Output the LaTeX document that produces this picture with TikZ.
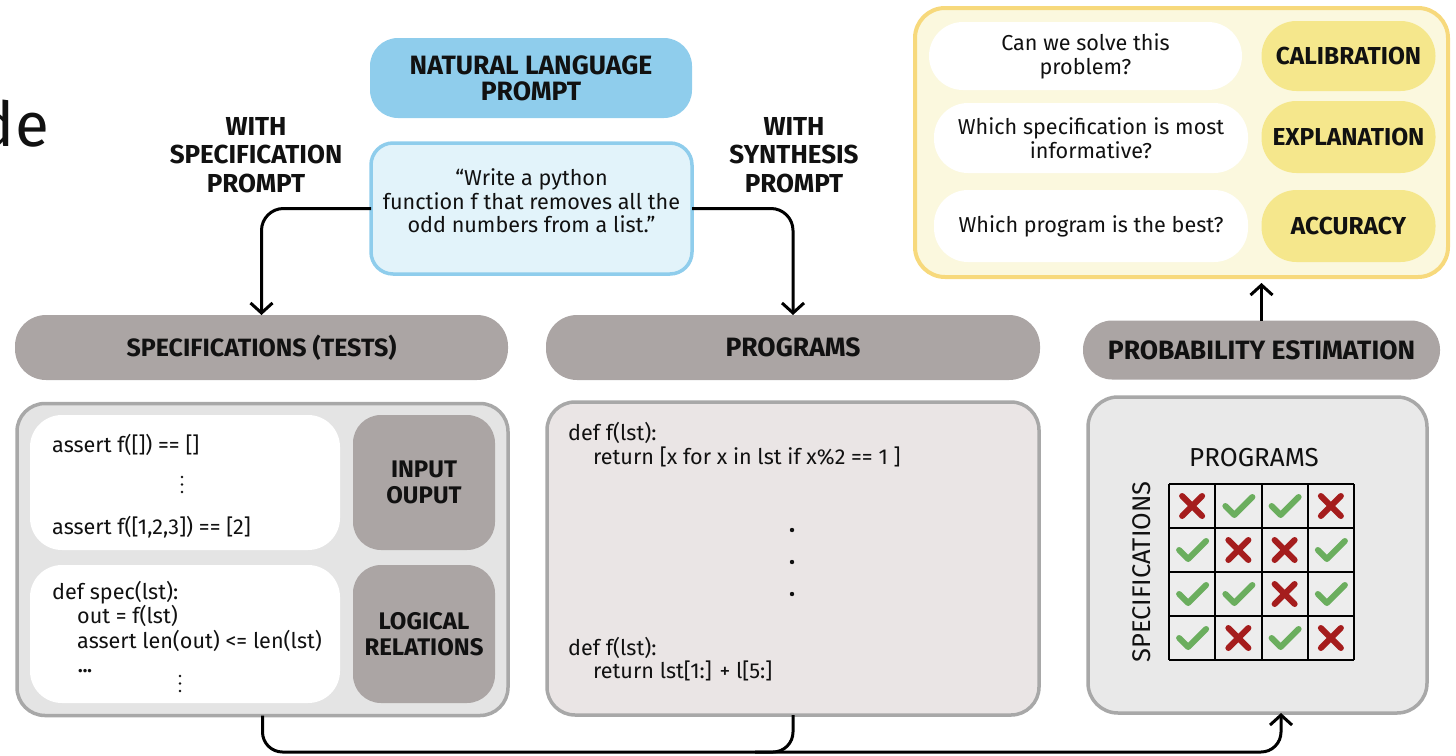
\documentclass[tikz,border=0pt]{standalone}
\usepackage{fontspec}
\setmainfont{Fira Sans}
\usetikzlibrary{arrows.meta,calc}

\definecolor{nlblue}{HTML}{8FCDEC}
\definecolor{promptfill}{HTML}{E2F3FA}
\definecolor{headgray}{HTML}{ABA5A4}
\definecolor{boxgray}{HTML}{E4E4E4}
\definecolor{boxedge}{HTML}{A8A8A8}
\definecolor{progfill}{HTML}{EAE5E5}
\definecolor{probfill}{HTML}{E9E9E9}
\definecolor{cellfill}{HTML}{EDEDED}
\definecolor{yelfill}{HTML}{FBF8DE}
\definecolor{yeledge}{HTML}{F7D97C}
\definecolor{yelpill}{HTML}{F5E78C}
\definecolor{okgreen}{HTML}{6BAE5E}
\definecolor{badred}{HTML}{A51D1D}
\definecolor{ink}{HTML}{111111}

% bold label font at a given size
\newcommand{\boldat}[1]{\fontsize{#1}{26}\selectfont\bfseries}
\newcommand{\bodyfont}{\fontsize{21.6}{24}\selectfont}

\tikzset{
  panel/.style={inner sep=0pt, outer sep=0pt},
  pillhead/.style={panel, fill=headgray, rounded corners=31pt, text=ink, align=center},
  bluehead/.style={panel, fill=nlblue, rounded corners=28pt, text=ink,
    font=\fontsize{26.5}{26}\selectfont\bfseries, align=center},
  promptbox/.style={panel, fill=promptfill, draw=nlblue, line width=3.5pt,
    rounded corners=22pt},
  prompttxt/.style={inner sep=0pt, text=ink, font=\fontsize{21.6}{23.5}\selectfont, align=center},
  outerbox/.style={panel, draw=boxedge, line width=3.5pt, rounded corners=28pt},
  whitebox/.style={panel, fill=white, rounded corners=32pt},
  graybox/.style={panel, fill=headgray, rounded corners=28pt, text=ink,
    font=\fontsize{24}{26}\selectfont\bfseries, align=center},
  qpill/.style={panel, fill=white, rounded corners=34pt, text=ink,
    font=\bodyfont, align=center},
  ypill/.style={panel, fill=yelpill, rounded corners=35pt, text=ink,
    font=\fontsize{24.5}{26}\selectfont\bfseries, align=center},
  code/.style={inner sep=0pt, anchor=base west, text=ink, font=\bodyfont},
  sidelabel/.style={inner sep=0pt, text=ink, font=\fontsize{26}{28.5}\selectfont\bfseries, align=center},
  gridlabel/.style={inner sep=0pt, text=ink},
  conn/.style={draw=black, line width=3pt, rounded corners=22pt,
    -{Straight Barb[length=10pt,width=22pt,line width=3pt]}},
  plainconn/.style={draw=black, line width=3pt, rounded corners=22pt},
  okmk/.pic={\draw[okgreen, line width=6pt, line cap=round, line join=round]
    (-13,0) -- (-4,9) -- (14,-9);},
  badmk/.pic={\draw[badred, line width=6pt, line cap=round]
    (-10,-10) -- (10,10) (-10,10) -- (10,-10);},
}

\begin{document}
\begin{tikzpicture}[x=1pt,y=-1pt]
\useasboundingbox (0,0) rectangle (1456,755);

% slide text cut by the left edge
\node[inner sep=0pt, anchor=base east, text=ink, font=\fontsize{62}{70}\selectfont] (slidetext) at (49,146) {de};

% prompt column
\node[bluehead, minimum width=322pt, minimum height=80pt] (nlhead) at (531,78)
  {NATURAL LANGUAGE\\PROMPT};
\node[promptbox, minimum width=321pt, minimum height=131pt] (prompt) at (531.5,208.5) {};
\node[prompttxt] (prompttext) at (531.5,201)
  {``Write a python\\function f that removes all the\\odd numbers from a list.''};

\node[sidelabel] (withspec) at (256,155) {WITH\\SPECIFICATION\\PROMPT};
\node[sidelabel] (withsyn) at (794,155) {WITH\\SYNTHESIS\\PROMPT};

% section headers
\node[pillhead, font=\boldat{25}, minimum width=493pt, minimum height=65pt] (spechead) at (261.5,347.5)
  {SPECIFICATIONS (TESTS)};
\node[pillhead, font=\boldat{26.5}, minimum width=494pt, minimum height=65pt] (proghead) at (793,347.5)
  {PROGRAMS};
\node[pillhead, font=\boldat{26.5}, rounded corners=29pt, minimum width=357pt, minimum height=59pt] (probhead) at (1261.5,350)
  {PROBABILITY ESTIMATION};

% specifications panel
\node[outerbox, fill=boxgray, minimum width=491pt, minimum height=312pt] (specbox) at (262.5,559.5) {};
\node[whitebox, minimum width=310pt, minimum height=135pt] (iobox) at (185,482.5) {};
\node[whitebox, minimum width=310pt, minimum height=138pt] (lrbox) at (185,634) {};
\node[graybox, minimum width=142pt, minimum height=135pt] (iolabel) at (424,482.5) {INPUT\\OUPUT};
\node[graybox, minimum width=142pt, minimum height=138pt] (lrlabel) at (424,634) {LOGICAL\\RELATIONS};

\node[code] (io1) at (52,452) {assert f([]) == []};
\node[code] (io2) at (52,534) {assert f([1,2,3]) == [2]};
\foreach \yy in {477,484.5,492} \fill[ink] (182,\yy) circle (1.4pt);
\node[code] (lr1) at (52,599) {def spec(lst):};
\node[code] (lr2) at (77,623) {out = f(lst)};
\node[code] (lr3) at (77,648) {assert len(out) <= len(lst)};
\node[code, font=\fontsize{19}{24}\selectfont\bfseries] (lr4) at (78,672) {...};
\foreach \yy in {676,683.5,691} \fill[ink] (180,\yy) circle (1.4pt);

% programs panel
\node[outerbox, fill=progfill, minimum width=492pt, minimum height=313pt] (progbox) at (793,558.5) {};
\node[code] (p1) at (568,440) {def f(lst):};
\node[code] (p2) at (593,464) {return [x for x in lst if x\%2 == 1 ]};
\foreach \yy in {530,562,594} \fill[ink] (792,\yy) circle (2.2pt);
\node[code] (p3) at (568,655) {def f(lst):};
\node[code] (p4) at (593,678) {return lst[1:] + l[5:]};

% probability estimation panel
\node[outerbox, fill=probfill, rounded corners=30pt, minimum width=339pt, minimum height=316pt] (probbox) at (1257.5,555) {};
\node[gridlabel, font=\fontsize{26}{26}\selectfont] (gridtop) at (1254,458) {PROGRAMS};
\node[gridlabel, font=\fontsize{25.5}{26}\selectfont, rotate=90] (gridside) at (1142,572) {SPECIFICATIONS};
\fill[cellfill] (1169,484) rectangle (1354,660);
\foreach \i in {0,...,4} {
  \draw[black, line width=2pt] ({1169+46.25*\i},484) -- ({1169+46.25*\i},660);
  \draw[black, line width=2pt] (1169,{484+44*\i}) -- (1354,{484+44*\i});
}
\foreach \r/\row in {0/{b,o,o,b}, 1/{o,b,b,o}, 2/{o,o,b,o}, 3/{o,b,o,b}} {
  \foreach \m [count=\c from 0] in \row {
    \if\m o
      \pic at ({1169+46.25*(\c+0.5)},{484+44*(\r+0.5)}) {okmk};
    \else
      \pic at ({1169+46.25*(\c+0.5)},{484+44*(\r+0.5)}) {badmk};
    \fi
  }
}

% outcome panel
\node[panel, fill=yelfill, draw=yeledge, line width=4pt, rounded corners=30pt,
  minimum width=533pt, minimum height=269pt] (outbox) at (1181.5,142.5) {};
\node[qpill, minimum width=313pt, minimum height=68pt] (q1) at (1085.5,56) {Can we solve this\\problem?};
\node[qpill, minimum width=314pt, minimum height=70pt] (q2) at (1091,138) {Which specification is most\\informative?};
\node[qpill, minimum width=314pt, minimum height=72pt] (q3) at (1091,226) {Which program is the best?};
\node[ypill, minimum width=174pt, minimum height=70pt] (a1) at (1348.5,56) {CALIBRATION};
\node[ypill, minimum width=174pt, minimum height=72pt] (a2) at (1348.5,137) {EXPLANATION};
\node[ypill, minimum width=174pt, minimum height=72pt] (a3) at (1348.5,226) {ACCURACY};

% connectors
\draw[conn] (prompt.west) -| (spechead.north);
\draw[conn] (prompt.east) -| (proghead.north);
\draw[conn, shorten >=6pt] (probhead.north) -- (probhead.north |- outbox.south);
\coordinate (probin) at (1281,713);
\draw[conn, rounded corners=20pt] (specbox.south) -- (specbox.south |- 0,752) -- (probin |- 0,752) -- (probin);
\draw[plainconn, rounded corners=20pt] (progbox.south) |- (755,752);
\end{tikzpicture}
\end{document}
